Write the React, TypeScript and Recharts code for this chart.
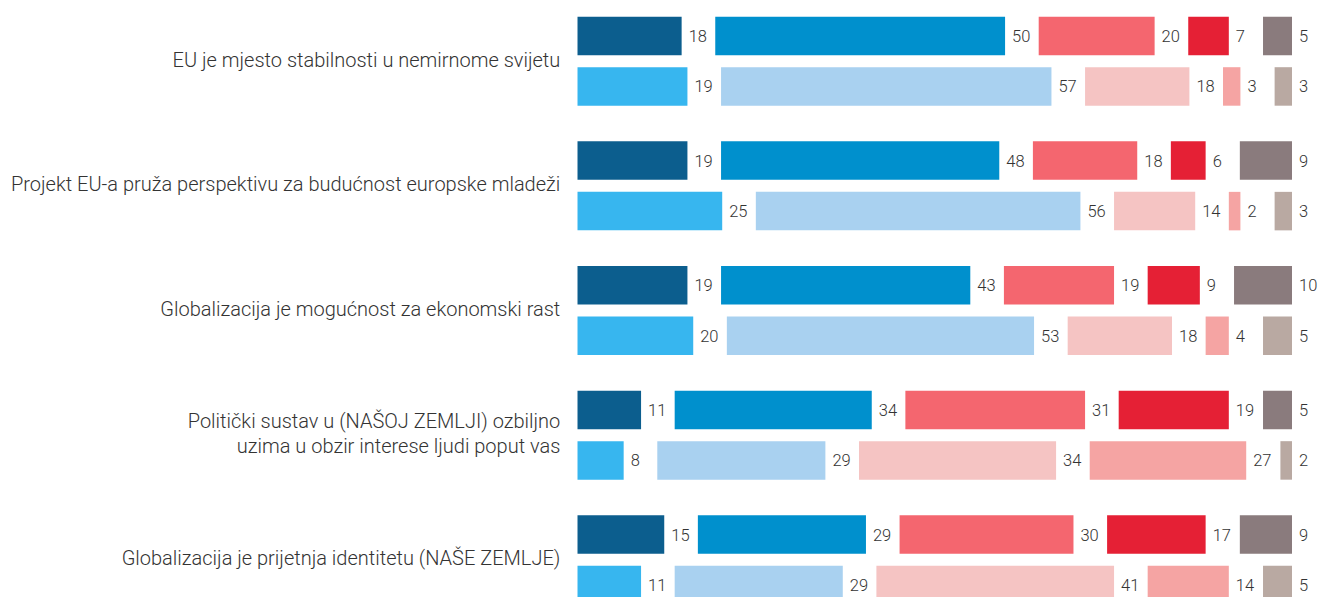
import { BarChart, Bar, XAxis, YAxis, LabelList } from "recharts"

// ─── Data ────────────────────────────────────────────────────────────────────
const categories = [
  "EU je mjesto stabilnosti u nemirnome svijetu",
  "Projekt EU-a pruža perspektivu za budućnost europske mladeži",
  "Globalizacija je mogućnost za ekonomski rast",
  "Politički sustav u (NAŠOJ ZEMLJI) ozbiljno\nuzima u obzir interese ljudi poput vas",
  "Globalizacija je prijetnja identitetu (NAŠE ZEMLJE)",
]

// upper bar of each pair
const totallyAgreeTop = [18, 19, 19, 11, 15]
const tendAgreeTop = [50, 48, 43, 34, 29]
const tendDisagreeTop = [20, 18, 19, 31, 30]
const totallyDisagreeTop = [7, 6, 9, 19, 17]
const dontKnowTop = [5, 9, 10, 5, 9]

// lower bar of each pair
const totallyAgreeBottom = [19, 25, 20, 8, 11]
const tendAgreeBottom = [57, 56, 53, 29, 29]
const tendDisagreeBottom = [18, 14, 18, 34, 41]
const totallyDisagreeBottom = [3, 2, 4, 27, 14]
const dontKnowBottom = [3, 3, 5, 2, 5]

// ─── Layout constants ────────────────────────────────────────────────────────
const GAP = 5.8 // blank space between segments, in axis units
const X_MAX = 123.3
const FONT = "Roboto, 'Open Sans', sans-serif"
const TEXT = "#333333"

const TOP_COLORS = ["#0c5e8e", "#0090cd", "#f4666f", "#e52035", "#8a7b7d"]
const BOTTOM_COLORS = ["#37b6ef", "#a9d1f0", "#f5c4c3", "#f5a4a3", "#b9a9a2"]

const data = categories.map((name, i) => ({
  name,
  t1: totallyAgreeTop[i],
  tg1: GAP,
  t2: tendAgreeTop[i],
  tg2: GAP,
  t3: tendDisagreeTop[i],
  tg3: GAP,
  t4: totallyDisagreeTop[i],
  tdk: dontKnowTop[i],
  b1: totallyAgreeBottom[i],
  bg1: GAP,
  b2: tendAgreeBottom[i],
  bg2: GAP,
  b3: tendDisagreeBottom[i],
  bg3: GAP,
  b4: totallyDisagreeBottom[i],
  bdk: dontKnowBottom[i],
}))

// ─── Labels ──────────────────────────────────────────────────────────────────
function ValueLabel(props: any) {
  const vb = props.viewBox && props.viewBox.width !== undefined ? props.viewBox : props
  const x = Number(vb.x)
  const y = Number(vb.y)
  const w = Number(vb.width)
  const h = Number(vb.height)
  const end = Math.max(x, x + w)
  return (
    <text
      x={end + 7}
      y={y + h / 2 + 6}
      fontSize={16.5}
      fontWeight={300}
      fill={TEXT}
      fontFamily={FONT}
      textAnchor="start"
    >
      {props.value}
    </text>
  )
}

function CategoryTick({ x, y, payload }: any) {
  const lines = String(payload.value).split("\n")
  return (
    <text x={x} y={y} textAnchor="end" fontSize={20} fill={TEXT} fontFamily={FONT} fontWeight={300}>
      {lines.map((line, i) => (
        <tspan key={i} x={x} y={y + 5.5 + (i - (lines.length - 1) / 2) * 25.7}>
          {line}
        </tspan>
      ))}
    </text>
  )
}

function segment(key: string, stack: string, color: string, axis = "main") {
  return (
    <Bar
      key={key}
      dataKey={key}
      stackId={stack}
      xAxisId={axis}
      fill={color}
      isAnimationActive={false}
    >
      <LabelList dataKey={key} content={<ValueLabel />} />
    </Bar>
  )
}

function spacer(key: string, stack: string) {
  return (
    <Bar key={key} dataKey={key} stackId={stack} xAxisId="main" fill="transparent" isAnimationActive={false} />
  )
}

// ─── Main component ──────────────────────────────────────────────────────────
export default function App() {
  return (
    <div
      style={{
        position: "absolute",
        left: 0,
        top: 0,
        width: 1320,
        height: 597,
        overflow: "hidden",
        background: "#ffffff",
      }}
    >
      <div style={{ marginTop: -12 }}>
        <BarChart
          width={1320}
          height={634}
          layout="vertical"
          data={data}
          barSize={38.5}
          barGap={12}
          margin={{ top: 10.7, right: 28, bottom: 0, left: 0 }}
        >
          <XAxis xAxisId="main" type="number" domain={[0, X_MAX]} allowDataOverflow hide />
          <XAxis xAxisId="dk" type="number" domain={[0, X_MAX]} allowDataOverflow reversed hide />
          <YAxis
            type="category"
            dataKey="name"
            width={577.3}
            axisLine={false}
            tickLine={false}
            tickSize={0}
            tickMargin={17}
            interval={0}
            tick={<CategoryTick />}
          />

          {segment("t1", "top", TOP_COLORS[0])}
          {spacer("tg1", "top")}
          {segment("t2", "top", TOP_COLORS[1])}
          {spacer("tg2", "top")}
          {segment("t3", "top", TOP_COLORS[2])}
          {spacer("tg3", "top")}
          {segment("t4", "top", TOP_COLORS[3])}
          {segment("tdk", "top", TOP_COLORS[4], "dk")}

          {segment("b1", "bottom", BOTTOM_COLORS[0])}
          {spacer("bg1", "bottom")}
          {segment("b2", "bottom", BOTTOM_COLORS[1])}
          {spacer("bg2", "bottom")}
          {segment("b3", "bottom", BOTTOM_COLORS[2])}
          {spacer("bg3", "bottom")}
          {segment("b4", "bottom", BOTTOM_COLORS[3])}
          {segment("bdk", "bottom", BOTTOM_COLORS[4], "dk")}
        </BarChart>
      </div>
    </div>
  )
}
